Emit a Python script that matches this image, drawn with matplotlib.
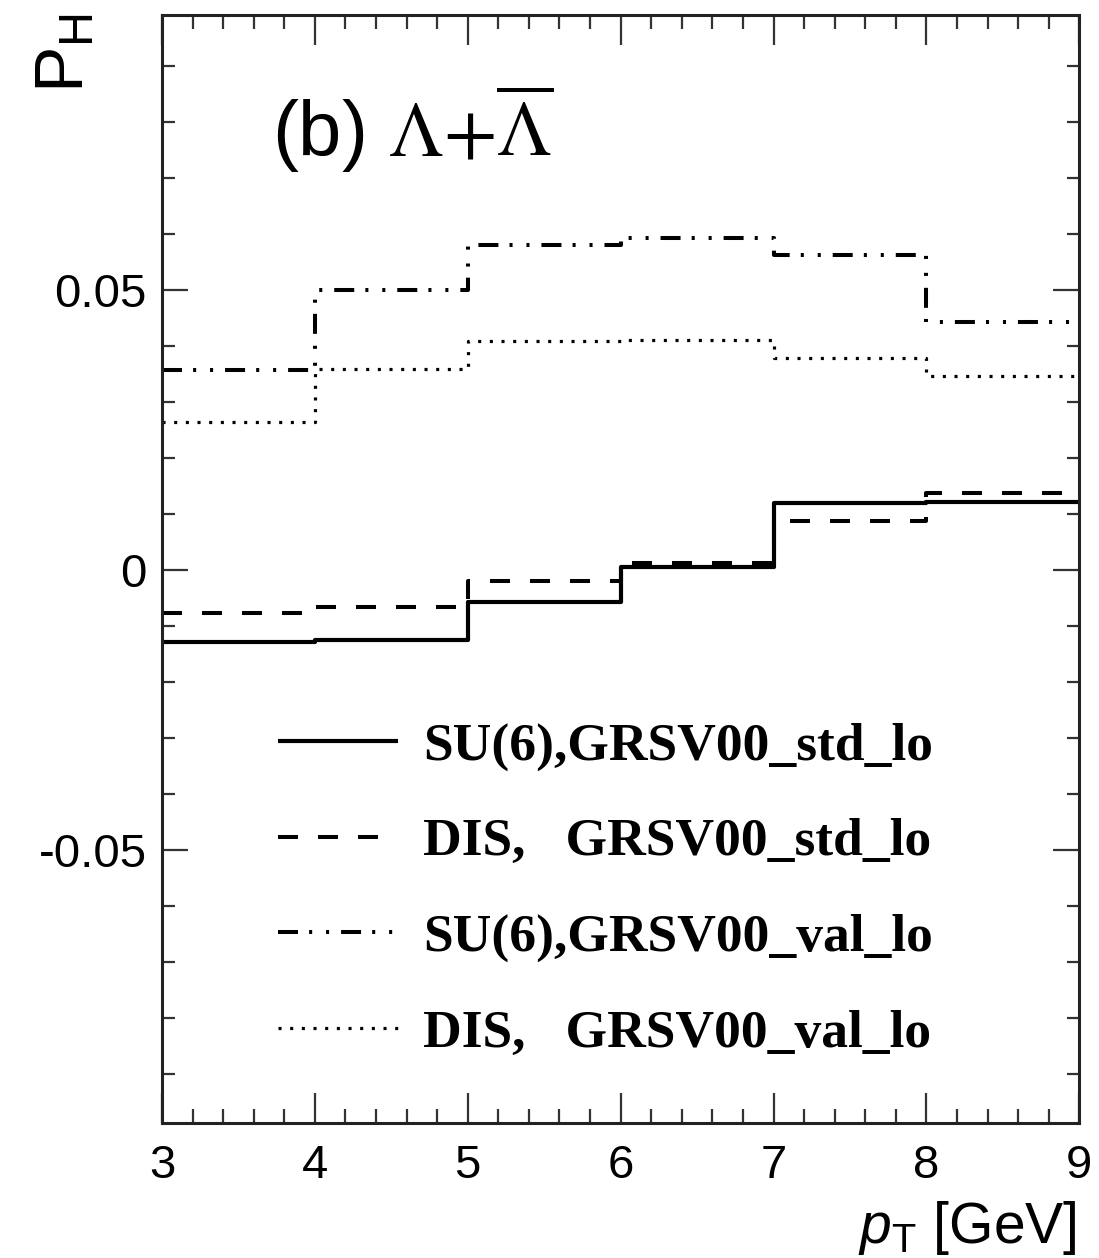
import numpy as np
import matplotlib
matplotlib.use("Agg")
import matplotlib.pyplot as plt
from matplotlib.ticker import FixedLocator, FixedFormatter, MultipleLocator
from matplotlib.font_manager import FontProperties

# ---- data: polarization P_H per pT bin ----
pt_edges = [3, 4, 5, 6, 7, 8, 9]
su6_std = [-0.0128, -0.0125, -0.0057, 0.0006, 0.0120, 0.0122]
dis_std = [-0.0076, -0.0066, -0.0019, 0.0013, 0.0088, 0.0138]
su6_val = [0.0357, 0.0500, 0.0580, 0.0593, 0.0563, 0.0442]
dis_val = [0.0265, 0.0358, 0.0408, 0.0410, 0.0378, 0.0346]

series_labels = [
    "SU(6),GRSV00_std_lo",
    "DIS,   GRSV00_std_lo",
    "SU(6),GRSV00_val_lo",
    "DIS,   GRSV00_val_lo",
]
ytick_values = [-0.05, 0.0, 0.05]
ytick_labels = ["-0.05", "0", "0.05"]
xtick_values = [3, 4, 5, 6, 7, 8, 9]
xtick_labels = ["3", "4", "5", "6", "7", "8", "9"]

plt.rcParams["font.family"] = ["Liberation Sans", "DejaVu Sans"]
plt.rcParams["axes.unicode_minus"] = False
plt.rcParams["lines.scale_dashes"] = False
plt.rcParams["mathtext.fontset"] = "custom"
plt.rcParams["mathtext.rm"] = "Liberation Sans"
plt.rcParams["mathtext.it"] = "Liberation Sans:italic"
plt.rcParams["mathtext.bf"] = "Liberation Sans:bold"

W, H = 1099, 1258
fig = plt.figure(figsize=(W / 100, H / 100), dpi=100)
ax = fig.add_axes([162 / W, 1 - 1123.3 / H, (1079.3 - 162) / W, (1123.3 - 15) / H])

styles = [
    dict(linestyle="-", linewidth=3.0),
    dict(linestyle=(0, (14.4, 14.4)), linewidth=2.9),
    dict(linestyle=(0, (14.4, 8.0, 2.2, 10.0, 2.2, 8.6)), linewidth=2.9),
    dict(linestyle=(0, (2.2, 6.2)), linewidth=2.3),
]

edges = np.asarray(pt_edges, dtype=float)
handles = []
for vals, lab, st in zip([su6_std, dis_std, su6_val, dis_val], series_labels, styles):
    y = np.append(vals, vals[-1])
    (ln,) = ax.plot(edges, y, drawstyle="steps-post", color="black",
                    solid_capstyle="butt", dash_capstyle="butt", label=lab, **st)
    handles.append(ln)

ax.set_xlim(3, 9)
ax.set_ylim(-0.0988, 0.0991)

ax.xaxis.set_major_locator(FixedLocator(xtick_values))
ax.xaxis.set_major_formatter(FixedFormatter(xtick_labels))
ax.xaxis.set_minor_locator(MultipleLocator(0.2))
ax.yaxis.set_major_locator(FixedLocator(ytick_values))
ax.yaxis.set_major_formatter(FixedFormatter(ytick_labels))
ax.yaxis.set_minor_locator(MultipleLocator(0.01))

ax.tick_params(which="both", direction="in", top=True, right=True,
               width=1.6, color="#333333")
ax.tick_params(axis="x", which="major", length=21.5, pad=15, labelsize=34)
ax.tick_params(axis="x", which="minor", length=10)
ax.tick_params(axis="y", which="major", length=19, pad=11, labelsize=34)
ax.tick_params(axis="y", which="minor", length=9)
for sp in ax.spines.values():
    sp.set_linewidth(2.2)
    sp.set_color("#222222")

ax.set_xlabel(r"$p_\mathregular{T}$ [GeV]", fontsize=41, loc="right")
ax.xaxis.set_label_coords(0.9975, -0.068)
ax.set_ylabel(r"P$_\mathregular{H}$", fontsize=50, loc="top")
ax.yaxis.set_label_coords(-0.071, 1.0018)

ax.text(0.12, 0.872, r"(b) $\Lambda{+}\overline{\Lambda}$", transform=ax.transAxes,
        fontsize=56, math_fontfamily="stix", va="baseline", ha="left")

ax.legend(handles=handles, loc="center left", bbox_to_anchor=(0.1265, 0.2105),
          frameon=False,
          prop=FontProperties(family="Liberation Serif", weight="bold", size=38.5),
          handlelength=2.25, handletextpad=0.47, labelspacing=0.88,
          borderpad=0, borderaxespad=0)

fig.savefig("out.png", dpi=100)
